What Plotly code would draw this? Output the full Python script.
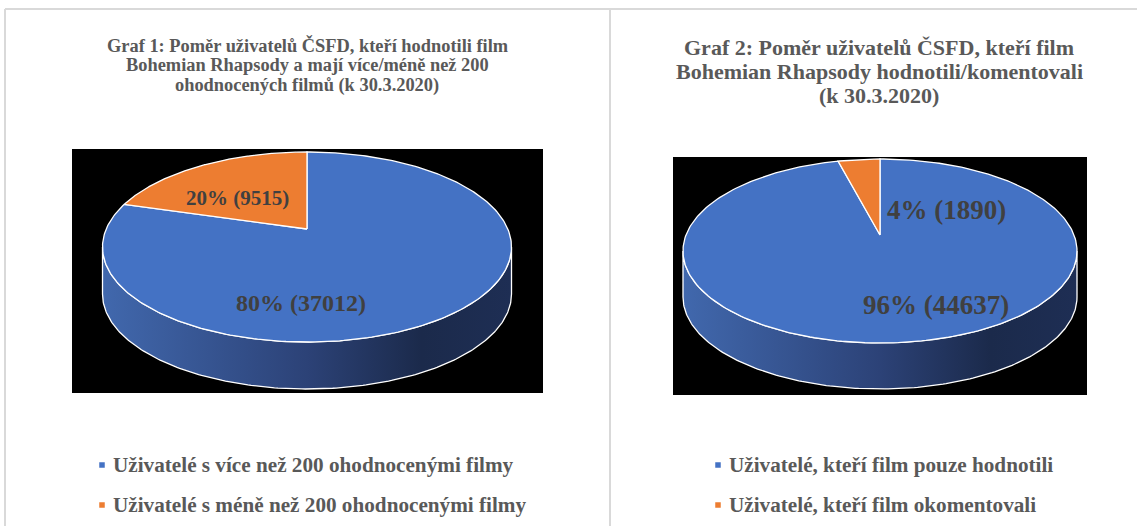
import numpy as np
import plotly.graph_objects as go

# ---------------- data ----------------
titles_1 = ["Graf 1: Poměr uživatelů ČSFD, kteří hodnotili film",
            "Bohemian Rhapsody a mají více/méně než 200",
            "ohodnocených filmů (k 30.3.2020)"]
titles_2 = ["Graf 2: Poměr uživatelů ČSFD, kteří film",
            "Bohemian Rhapsody hodnotili/komentovali",
            "(k 30.3.2020)"]
categories_1 = ["Uživatelé s více než 200 ohodnocenými filmy",
                "Uživatelé s méně než 200 ohodnocenými filmy"]
values_1 = [37012, 9515]
categories_2 = ["Uživatelé, kteří film pouze hodnotili",
                "Uživatelé, kteří film okomentovali"]
values_2 = [44637, 1890]

# ---------------- styles / layout geometry ----------------
TOP_COLORS = ["#4472C4", "#ED7D31"]
LABEL_COLOR = "#404040"
TEXT_COLOR = "#595959"
FONT = "Liberation Serif"
SIDE_SCALE = [[0, "#4168ad"], [0.5, "#2c4277"], [0.78, "#1b2a4b"], [1, "#1e2e54"]]

W, H = 1137, 526

geo1 = dict(cx=307.0, cy=229.0, top=152.0, bottom=342.0, rx=204.5, h=47.0,
            box=(72, 149, 543, 393))
geo2 = dict(cx=880.0, cy=235.0, top=159.0, bottom=343.0, rx=197.0, h=46.0,
            box=(673, 157, 1087, 395))

label_pos_1 = [(301, 303, 24), (237, 198, 21)]
label_pos_2 = [(936, 305, 27), (946, 210, 27)]
title_pos_1 = (307, [45, 65, 85], 18.4)
title_pos_2 = (879, [47, 71, 95], 22)
legend_pos_1 = (102, 111, [465, 505], 21.2)
legend_pos_2 = (718, 727, [465, 505], 21.2)


def camera(g):
    a = g["cy"] - g["top"]
    b = g["bottom"] - g["cy"]
    p = (b - a) / (a + b)
    k = a * (1 + p)
    R = g["rx"] * np.sqrt(1 - p * p)
    return p, k, R


def proj(phi, g):
    p, k, R = camera(g)
    d = 1 + p * np.cos(phi)
    return g["cx"] + R * np.sin(phi) / d, g["cy"] - k * np.cos(phi) / d


fig = go.Figure()


def add_pie(values, cats, g, label_pos, legend_pos):
    total = float(sum(values))
    fr = np.array(values, dtype=float) / total
    edges = np.concatenate([[0], np.cumsum(fr)]) * 2 * np.pi
    p, k, R = camera(g)
    fa, fb = np.pi / 2 + np.arcsin(p), 3 * np.pi / 2 - np.arcsin(p)
    # black background box
    x0, y0, x1, y1 = g["box"]
    fig.add_shape(type="rect", x0=x0, y0=y0, x1=x1, y1=y1, xref="x", yref="y",
                  fillcolor="black", line=dict(width=0), layer="below")
    # side walls
    for i in range(len(values)):
        a, b = max(edges[i], fa), min(edges[i + 1], fb)
        if b <= a:
            continue
        ph = np.linspace(a, b, 200)
        xs, ys = proj(ph, g)
        px = np.concatenate([xs, xs[::-1], xs[:1]])
        py = np.concatenate([ys, ys[::-1] + g["h"], ys[:1]])
        fig.add_trace(go.Scatter(x=px, y=py, mode="lines", fill="toself",
                                 fillgradient=dict(type="horizontal", colorscale=SIDE_SCALE),
                                 line=dict(color="white", width=1.3),
                                 hoverinfo="skip", showlegend=False))
    # top faces
    for i in range(len(values)):
        ph = np.linspace(edges[i], edges[i + 1], 300)
        xs, ys = proj(ph, g)
        px = np.concatenate([[g["cx"]], xs, [g["cx"]]])
        py = np.concatenate([[g["cy"]], ys, [g["cy"]]])
        fig.add_trace(go.Scatter(x=px, y=py, mode="lines", fill="toself",
                                 fillcolor=TOP_COLORS[i],
                                 line=dict(color="white", width=1.3),
                                 name=cats[i], hoverinfo="skip", showlegend=False))
    # labels
    for i, v in enumerate(values):
        lx, ly, fs = label_pos[i]
        fig.add_annotation(x=lx, y=ly, xref="x", yref="y", showarrow=False,
                           text=f"<b>{round(100 * v / total)}% ({v})</b>",
                           font=dict(family=FONT, size=fs, color=LABEL_COLOR))
    # legend
    mx, tx, lys, fs = legend_pos
    fig.add_trace(go.Scatter(x=[mx] * len(cats), y=lys, mode="markers",
                             marker=dict(symbol="square", size=5.5, color=TOP_COLORS[:len(cats)]),
                             hoverinfo="skip", showlegend=False, cliponaxis=False))
    for c, y in zip(cats, lys):
        fig.add_annotation(x=tx, y=y, xref="x", yref="y", showarrow=False,
                           xanchor="left", yanchor="middle", text=f"<b>{c}</b>",
                           font=dict(family=FONT, size=fs, color=TEXT_COLOR))


def add_title(lines, pos):
    cx, ys, fs = pos
    for t, y in zip(lines, ys):
        fig.add_annotation(x=cx, y=y, xref="x", yref="y", showarrow=False,
                           text=f"<b>{t}</b>",
                           font=dict(family=FONT, size=fs, color=TEXT_COLOR))


add_pie(values_1, categories_1, geo1, label_pos_1, legend_pos_1)
add_pie(values_2, categories_2, geo2, label_pos_2, legend_pos_2)
add_title(titles_1, title_pos_1)
add_title(titles_2, title_pos_2)

# frame lines
for kw in [dict(x0=5, y0=9, x1=W, y1=9), dict(x0=5, y0=9, x1=5, y1=H),
           dict(x0=610, y0=9, x1=610, y1=H)]:
    fig.add_shape(type="line", xref="x", yref="y", line=dict(color="#d9d9d9", width=2),
                  layer="below", **kw)

fig.update_layout(
    width=W, height=H, margin=dict(l=0, r=0, t=0, b=0),
    paper_bgcolor="white", plot_bgcolor="white",
    xaxis=dict(range=[0, W], visible=False, fixedrange=True),
    yaxis=dict(range=[H, 0], visible=False, fixedrange=True),
    showlegend=False,
)

fig.write_html("out.html", config={"displayModeBar": False},
               post_script="document.body.style.margin='0';document.body.style.overflow='hidden';")
